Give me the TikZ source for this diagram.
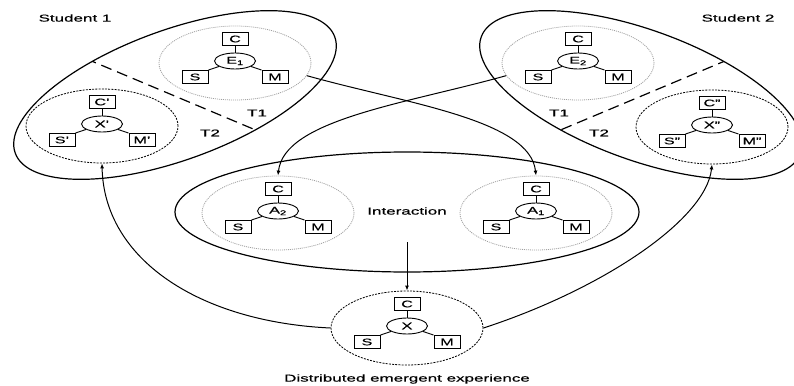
\documentclass[tikz,border=0pt]{standalone}
\usepackage{fontspec}
\setmainfont[FakeStretch=1.7, FakeBold=0.6]{Liberation Sans}
\usepackage{tikz}
\usetikzlibrary{arrows.meta,shapes.geometric}
\newcommand{\triad}[8]{%
  \node[#8] (#1) at (#2,#3) {};
  \node[core] (#1-x) at (#2,#3-2) {#4};
  \node[box] (#1-c) at (#2,#3-24) {#5};
  \node[box] (#1-s) at (#2-40,#3+14) {#6};
  \node[box] (#1-m) at (#2+40,#3+14) {#7};
  \draw (#1-x) -- (#1-c);
  \draw (#1-x) -- (#1-s.north east);
  \draw (#1-x) -- (#1-m.north west);
}

\begin{document}
\begin{tikzpicture}[x=1pt, y=-1pt, line width=0.9pt,
  every node/.style={font=\fontsize{10}{12}\selectfont},
  box/.style={draw, minimum width=26pt, minimum height=13pt, inner sep=1pt, font=\fontsize{9.5}{11}\selectfont},
  core/.style={draw, ellipse, minimum width=41pt, minimum height=16pt, inner sep=0pt, font=\fontsize{9.5}{11}\selectfont},
  ring/.style={draw=gray!75, ellipse, line width=0.8pt, dash pattern=on 1pt off 1pt, minimum width=152pt, minimum height=74pt, inner sep=0pt},
  dashring/.style={draw, ellipse, line width=0.8pt, dash pattern=on 2pt off 1.2pt, minimum width=152pt, minimum height=74pt, inner sep=0pt},
  outer/.style={line width=1.2pt},
  split/.style={line width=1.2pt, dash pattern=on 11pt off 6pt},
  arr/.style={-{Latex[length=5pt,width=4pt]}, line width=1pt}]
  \useasboundingbox (0,0) rectangle (794,385);

  % the two students
  \draw[outer] (175,95) ellipse [x radius=170, y radius=65, rotate=20];
  \draw[outer] (641,95) ellipse [x radius=170, y radius=65, rotate=-20];
  \begin{scope}
    \clip (175,95) ellipse [x radius=170, y radius=65, rotate=20];
    \draw[split] (70,52) -- (277,139);
  \end{scope}
  \begin{scope}
    \clip (641,95) ellipse [x radius=170, y radius=65, rotate=-20];
    \draw[split] (744,53) -- (539,139);
  \end{scope}
  \node (s1) at (75,18) {Student 1};
  \node (s2) at (738,18) {Student 2};
  \node (t1a) at (257,113) {T1};
  \node (t2a) at (210,133) {T2};
  \node (t1b) at (559,113) {T1};
  \node (t2b) at (599,133) {T2};

  \triad{e1}{235}{63}{E\textsubscript{1}}{C}{S}{M}{ring}
  \triad{e2}{578}{63}{E\textsubscript{2}}{C}{S}{M}{ring}
  \triad{xs1}{102}{126}{X'}{C'}{S'}{M'}{dashring}
  \triad{xs2}{712}{127}{X''}{C''}{S''}{M''}{dashring}

  % interaction
  \draw[outer] (407,212) ellipse [x radius=232, y radius=60];
  \triad{a2}{278}{213}{A\textsubscript{2}}{C}{S}{M}{ring}
  \triad{a1}{536}{213}{A\textsubscript{1}}{C}{S}{M}{ring}
  \node (inter) at (407,211) {Interaction};

  % emergent experience
  \triad{dx}{407}{328}{X}{C}{S}{M}{dashring}
  \node (dee) at (407,379) {Distributed emergent experience};

  \coordinate (drop) at (407,242);
  \draw[arr] (drop) -- (dx.north);
  \draw[arr] (e1.-10) .. controls +(100,28) and +(-6,-56) .. (a1.north);
  \draw[arr] (e2.190) .. controls +(-100,28) and +(6,-56) .. (a2.north);
  \draw[arr] (dx.west) .. controls +(-131,-6) and +(2,96) .. (xs1.south);
  \draw[arr] (dx.east) .. controls +(117,-38) and +(-6,56) .. (xs2.south);
\end{tikzpicture}
\end{document}
